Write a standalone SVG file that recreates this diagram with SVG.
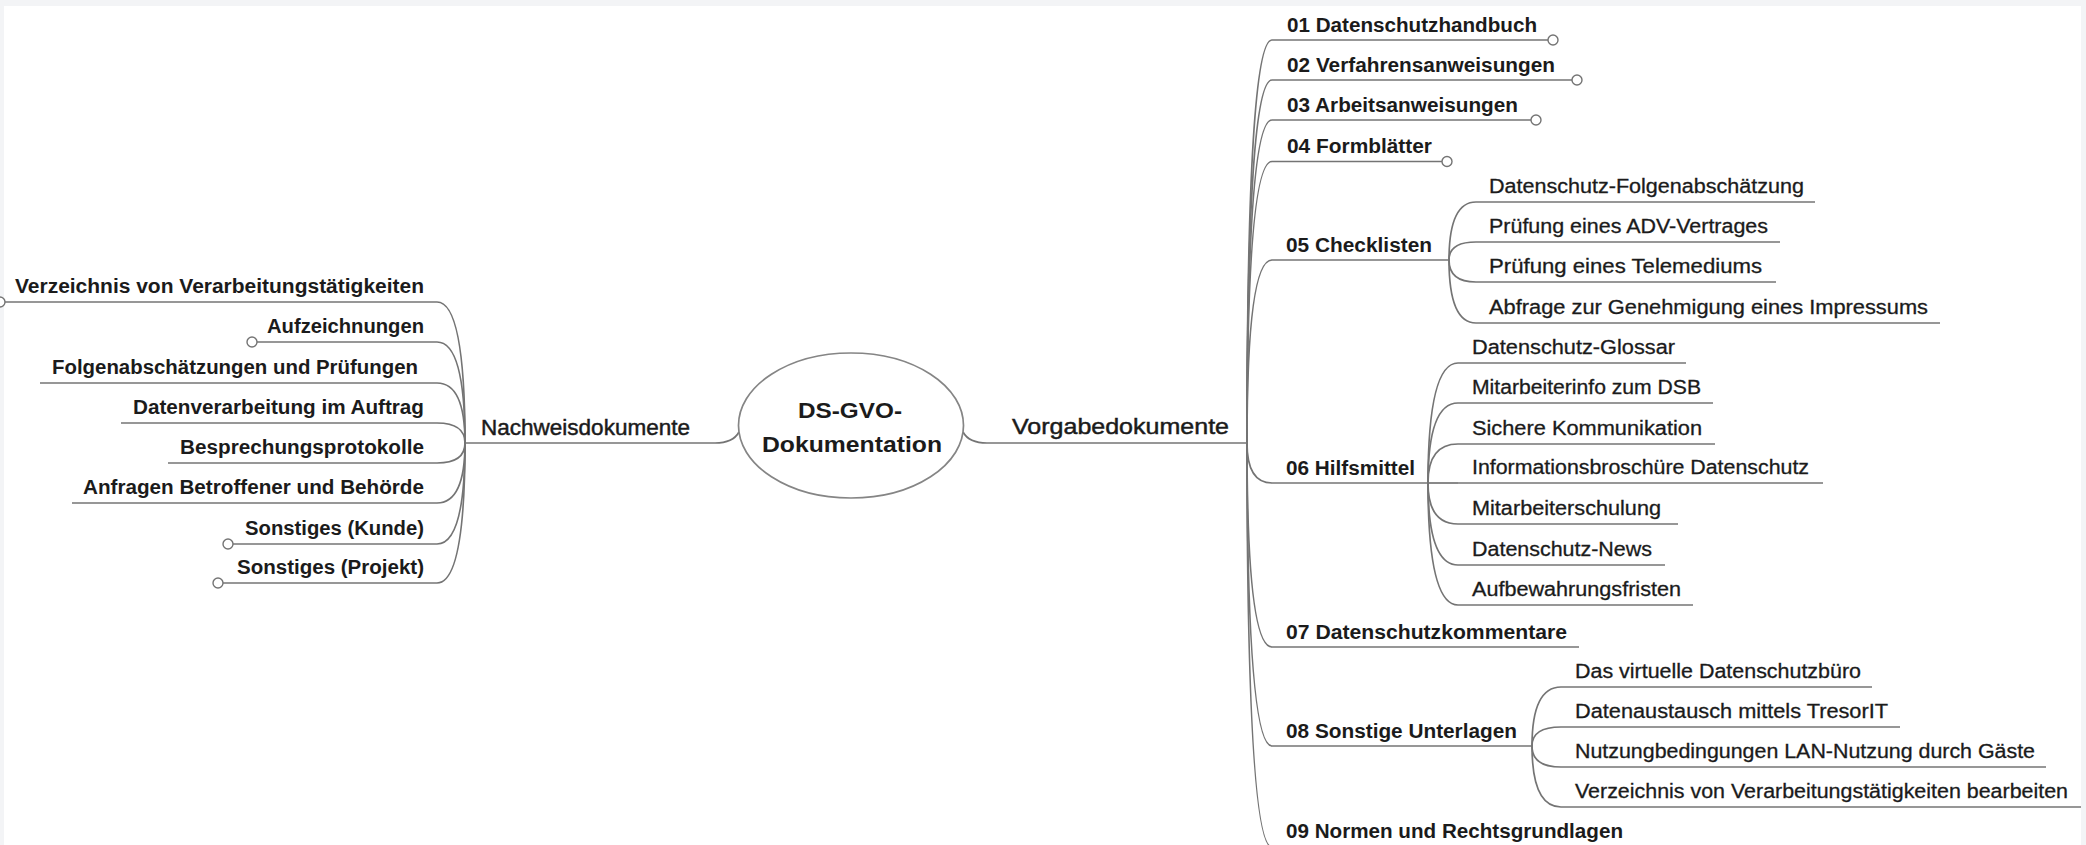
<svg xmlns="http://www.w3.org/2000/svg" width="2086" height="845" viewBox="0 0 2086 845">
  <style>
    .frame { fill: #f3f4f6; }
    .page { fill: #ffffff; }
    .conn { fill: none; stroke: #747474; stroke-width: 1.7; }
    .ul { stroke: #747474; stroke-width: 1.7; }
    .knob { fill: #ffffff; stroke: #747474; stroke-width: 1.4; }
    .root { fill: #ffffff; stroke: #858585; stroke-width: 1.7; }
    text { font-family: "Liberation Sans", Arial, sans-serif; fill: #1b1b1b; }
    .b { font-weight: bold; font-size: 20px; }
    .r { font-size: 20px; stroke: #1b1b1b; stroke-width: 0.3; }
    .main { font-size: 21.5px; stroke: #1b1b1b; stroke-width: 0.45; }
    .title { font-weight: bold; font-size: 22px; }
  </style>

  <!-- page background with thin grey frame -->
  <rect class="frame" x="0" y="0" width="2086" height="845"/>
  <rect class="page" x="4" y="6" width="2077" height="839"/>

  <!-- connectors -->
  <g id="connectors">
    <!-- root to main branches -->
    <path class="conn" d="M739,432 Q733,443 715,443"/>
    <path class="conn" d="M963,432 Q969,443 987,443"/>
    <!-- Nachweisdokumente children -->
    <path class="conn" d="M465,443 Q465,302 437,302"/>
    <path class="conn" d="M465,443 Q465,342 437,342"/>
    <path class="conn" d="M465,443 Q465,383 437,383"/>
    <path class="conn" d="M465,443 Q465,423 437,423"/>
    <path class="conn" d="M465,443 Q465,463 437,463"/>
    <path class="conn" d="M465,443 Q465,503 437,503"/>
    <path class="conn" d="M465,443 Q465,544 437,544"/>
    <path class="conn" d="M465,443 Q465,583 437,583"/>
    <!-- Vorgabedokumente children -->
    <path class="conn" d="M1247,443 Q1247,40 1272,40"/>
    <path class="conn" d="M1247,443 Q1247,80 1272,80"/>
    <path class="conn" d="M1247,443 Q1247,120 1272,120"/>
    <path class="conn" d="M1247,443 Q1247,161.5 1272,161.5"/>
    <path class="conn" d="M1247,443 Q1247,260 1272,260"/>
    <path class="conn" d="M1247,443 Q1247,483 1272,483"/>
    <path class="conn" d="M1247,443 Q1247,647 1272,647"/>
    <path class="conn" d="M1247,443 Q1247,746 1272,746"/>
    <path class="conn" d="M1247,443 Q1247,847 1272,847"/>
    <!-- 05 Checklisten children -->
    <path class="conn" d="M1449,260 Q1449,202 1476,202"/>
    <path class="conn" d="M1449,260 Q1449,242 1476,242"/>
    <path class="conn" d="M1449,260 Q1449,282 1476,282"/>
    <path class="conn" d="M1449,260 Q1449,323 1476,323"/>
    <!-- 06 Hilfsmittel children -->
    <path class="conn" d="M1428,483 Q1428,363 1458,363"/>
    <path class="conn" d="M1428,483 Q1428,403 1458,403"/>
    <path class="conn" d="M1428,483 Q1428,444 1458,444"/>
    <path class="conn" d="M1428,483 L1458,483"/>
    <path class="conn" d="M1428,483 Q1428,524 1458,524"/>
    <path class="conn" d="M1428,483 Q1428,565 1458,565"/>
    <path class="conn" d="M1428,483 Q1428,605 1458,605"/>
    <!-- 08 Sonstige Unterlagen children -->
    <path class="conn" d="M1532,746 Q1532,687 1561,687"/>
    <path class="conn" d="M1532,746 Q1532,727 1561,727"/>
    <path class="conn" d="M1532,746 Q1532,767 1561,767"/>
    <path class="conn" d="M1532,746 Q1532,807 1561,807"/>
  </g>

  <!-- central topic -->
  <g id="root">
    <ellipse class="root" cx="851" cy="425.5" rx="112.5" ry="72.5"/>
    <text class="title" x="798" y="418" textLength="104" lengthAdjust="spacingAndGlyphs">DS-GVO-</text>
    <text class="title" x="762" y="452" textLength="180" lengthAdjust="spacingAndGlyphs">Dokumentation</text>
  </g>

  <!-- main branch: Nachweisdokumente -->
  <g id="nachweis">
    <line class="ul" x1="465" y1="443" x2="715" y2="443"/>
    <text class="main" x="481" y="435" textLength="209" lengthAdjust="spacingAndGlyphs">Nachweisdokumente</text>
  </g>
  <g id="n-verzeichnis">
    <line class="ul" x1="4" y1="302" x2="437" y2="302"/>
    <circle class="knob" cx="0" cy="302" r="5"/>
    <text class="b" x="15" y="293" textLength="409" lengthAdjust="spacingAndGlyphs">Verzeichnis von Verarbeitungstätigkeiten</text>
  </g>
  <g id="n-aufzeichnungen">
    <line class="ul" x1="257" y1="342" x2="437" y2="342"/>
    <circle class="knob" cx="252" cy="342" r="5"/>
    <text class="b" x="267" y="333" textLength="157" lengthAdjust="spacingAndGlyphs">Aufzeichnungen</text>
  </g>
  <g id="n-folgen">
    <line class="ul" x1="40" y1="383" x2="437" y2="383"/>
    <text class="b" x="52" y="374" textLength="366" lengthAdjust="spacingAndGlyphs">Folgenabschätzungen und Prüfungen</text>
  </g>
  <g id="n-auftrag">
    <line class="ul" x1="121" y1="423" x2="437" y2="423"/>
    <text class="b" x="133" y="414" textLength="291" lengthAdjust="spacingAndGlyphs">Datenverarbeitung im Auftrag</text>
  </g>
  <g id="n-besprechung">
    <line class="ul" x1="168" y1="463" x2="437" y2="463"/>
    <text class="b" x="180" y="454" textLength="244" lengthAdjust="spacingAndGlyphs">Besprechungsprotokolle</text>
  </g>
  <g id="n-anfragen">
    <line class="ul" x1="72" y1="503" x2="437" y2="503"/>
    <text class="b" x="83" y="494" textLength="341" lengthAdjust="spacingAndGlyphs">Anfragen Betroffener und Behörde</text>
  </g>
  <g id="n-kunde">
    <line class="ul" x1="233" y1="544" x2="437" y2="544"/>
    <circle class="knob" cx="228" cy="544" r="5"/>
    <text class="b" x="245" y="535" textLength="179" lengthAdjust="spacingAndGlyphs">Sonstiges (Kunde)</text>
  </g>
  <g id="n-projekt">
    <line class="ul" x1="223" y1="583" x2="437" y2="583"/>
    <circle class="knob" cx="218" cy="583" r="5"/>
    <text class="b" x="237" y="574" textLength="187" lengthAdjust="spacingAndGlyphs">Sonstiges (Projekt)</text>
  </g>

  <!-- main branch: Vorgabedokumente -->
  <g id="vorgabe">
    <line class="ul" x1="987" y1="443" x2="1247" y2="443"/>
    <text class="main" x="1012" y="434" textLength="217" lengthAdjust="spacingAndGlyphs">Vorgabedokumente</text>
  </g>
  <g id="v01">
    <line class="ul" x1="1272" y1="40" x2="1548" y2="40"/>
    <circle class="knob" cx="1553" cy="40" r="5"/>
    <text class="b" x="1287" y="32" textLength="250" lengthAdjust="spacingAndGlyphs">01 Datenschutzhandbuch</text>
  </g>
  <g id="v02">
    <line class="ul" x1="1272" y1="80" x2="1572" y2="80"/>
    <circle class="knob" cx="1577" cy="80" r="5"/>
    <text class="b" x="1287" y="72" textLength="268" lengthAdjust="spacingAndGlyphs">02 Verfahrensanweisungen</text>
  </g>
  <g id="v03">
    <line class="ul" x1="1272" y1="120" x2="1531" y2="120"/>
    <circle class="knob" cx="1536" cy="120" r="5"/>
    <text class="b" x="1287" y="112" textLength="231" lengthAdjust="spacingAndGlyphs">03 Arbeitsanweisungen</text>
  </g>
  <g id="v04">
    <line class="ul" x1="1272" y1="161.5" x2="1442" y2="161.5"/>
    <circle class="knob" cx="1447" cy="161.5" r="5"/>
    <text class="b" x="1287" y="153" textLength="145" lengthAdjust="spacingAndGlyphs">04 Formblätter</text>
  </g>

  <g id="v05">
    <line class="ul" x1="1272" y1="260" x2="1449" y2="260"/>
    <text class="b" x="1286" y="252" textLength="146" lengthAdjust="spacingAndGlyphs">05 Checklisten</text>
  </g>
  <g id="v05-1">
    <line class="ul" x1="1476" y1="202" x2="1815" y2="202"/>
    <text class="r" x="1489" y="193" textLength="315" lengthAdjust="spacingAndGlyphs">Datenschutz-Folgenabschätzung</text>
  </g>
  <g id="v05-2">
    <line class="ul" x1="1476" y1="242" x2="1780" y2="242"/>
    <text class="r" x="1489" y="233" textLength="279" lengthAdjust="spacingAndGlyphs">Prüfung eines ADV-Vertrages</text>
  </g>
  <g id="v05-3">
    <line class="ul" x1="1476" y1="282" x2="1776" y2="282"/>
    <text class="r" x="1489" y="273" textLength="273" lengthAdjust="spacingAndGlyphs">Prüfung eines Telemediums</text>
  </g>
  <g id="v05-4">
    <line class="ul" x1="1476" y1="323" x2="1940" y2="323"/>
    <text class="r" x="1489" y="314" textLength="439" lengthAdjust="spacingAndGlyphs">Abfrage zur Genehmigung eines Impressums</text>
  </g>

  <g id="v06">
    <line class="ul" x1="1272" y1="483" x2="1428" y2="483"/>
    <text class="b" x="1286" y="475" textLength="129" lengthAdjust="spacingAndGlyphs">06 Hilfsmittel</text>
  </g>
  <g id="v06-1">
    <line class="ul" x1="1458" y1="363" x2="1686" y2="363"/>
    <text class="r" x="1472" y="354" textLength="203" lengthAdjust="spacingAndGlyphs">Datenschutz-Glossar</text>
  </g>
  <g id="v06-2">
    <line class="ul" x1="1458" y1="403" x2="1713" y2="403"/>
    <text class="r" x="1472" y="394" textLength="229" lengthAdjust="spacingAndGlyphs">Mitarbeiterinfo zum DSB</text>
  </g>
  <g id="v06-3">
    <line class="ul" x1="1458" y1="444" x2="1715" y2="444"/>
    <text class="r" x="1472" y="435" textLength="230" lengthAdjust="spacingAndGlyphs">Sichere Kommunikation</text>
  </g>
  <g id="v06-4">
    <line class="ul" x1="1458" y1="483" x2="1823" y2="483"/>
    <text class="r" x="1472" y="474" textLength="337" lengthAdjust="spacingAndGlyphs">Informationsbroschüre Datenschutz</text>
  </g>
  <g id="v06-5">
    <line class="ul" x1="1458" y1="524" x2="1678" y2="524"/>
    <text class="r" x="1472" y="515" textLength="189" lengthAdjust="spacingAndGlyphs">Mitarbeiterschulung</text>
  </g>
  <g id="v06-6">
    <line class="ul" x1="1458" y1="565" x2="1665" y2="565"/>
    <text class="r" x="1472" y="556" textLength="180" lengthAdjust="spacingAndGlyphs">Datenschutz-News</text>
  </g>
  <g id="v06-7">
    <line class="ul" x1="1458" y1="605" x2="1693" y2="605"/>
    <text class="r" x="1472" y="596" textLength="209" lengthAdjust="spacingAndGlyphs">Aufbewahrungsfristen</text>
  </g>

  <g id="v07">
    <line class="ul" x1="1272" y1="647" x2="1579" y2="647"/>
    <text class="b" x="1286" y="639" textLength="281" lengthAdjust="spacingAndGlyphs">07 Datenschutzkommentare</text>
  </g>

  <g id="v08">
    <line class="ul" x1="1272" y1="746" x2="1532" y2="746"/>
    <text class="b" x="1286" y="738" textLength="231" lengthAdjust="spacingAndGlyphs">08 Sonstige Unterlagen</text>
  </g>
  <g id="v08-1">
    <line class="ul" x1="1561" y1="687" x2="1872" y2="687"/>
    <text class="r" x="1575" y="678" textLength="286" lengthAdjust="spacingAndGlyphs">Das virtuelle Datenschutzbüro</text>
  </g>
  <g id="v08-2">
    <line class="ul" x1="1561" y1="727" x2="1900" y2="727"/>
    <text class="r" x="1575" y="718" textLength="313" lengthAdjust="spacingAndGlyphs">Datenaustausch mittels TresorIT</text>
  </g>
  <g id="v08-3">
    <line class="ul" x1="1561" y1="767" x2="2046" y2="767"/>
    <text class="r" x="1575" y="758" textLength="460" lengthAdjust="spacingAndGlyphs">Nutzungbedingungen LAN-Nutzung durch Gäste</text>
  </g>
  <g id="v08-4">
    <line class="ul" x1="1561" y1="807" x2="2081" y2="807"/>
    <text class="r" x="1575" y="798" textLength="493" lengthAdjust="spacingAndGlyphs">Verzeichnis von Verarbeitungstätigkeiten bearbeiten</text>
  </g>

  <g id="v09">
    <line class="ul" x1="1272" y1="847" x2="1636" y2="847"/>
    <text class="b" x="1286" y="838" textLength="337" lengthAdjust="spacingAndGlyphs">09 Normen und Rechtsgrundlagen</text>
  </g>
</svg>
